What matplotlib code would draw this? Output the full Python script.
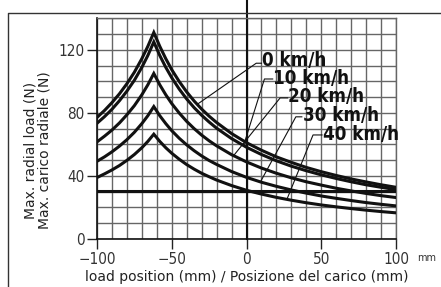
import numpy as np
import matplotlib
matplotlib.use('Agg')
import matplotlib.pyplot as plt
from matplotlib.lines import Line2D

# --
# Data (load position in mm, max radial load in N)

pos_mm = [-100, -95, -90, -85, -80, -75, -70, -66, -62, -58, -54, -50, -45, -40, -35,
          -30, -25, -20, -10, 0, 10, 20, 30, 40, 50, 60, 70, 80, 90, 100]

load_0kmh = [77.1, 81.5, 86.5, 92.1, 98.5, 105.8, 114.4, 122.2, 131.0, 122.2, 114.4, 107.4, 99.9, 93.3, 87.5,
             82.4, 77.9, 73.9, 66.9, 61.1, 56.3, 52.1, 48.6, 45.4, 42.7, 40.3, 38.1, 36.2, 34.4, 32.8]
load_10kmh = [73.4, 77.6, 82.3, 87.7, 93.8, 100.7, 108.9, 116.4, 125.0, 116.4, 108.9, 102.3, 95.1, 88.8, 83.3,
              78.5, 74.2, 70.3, 63.7, 58.2, 53.6, 49.6, 46.2, 43.3, 40.7, 38.4, 36.3, 34.4, 32.8, 31.3]
load_20kmh = [61.6, 65.2, 69.1, 73.6, 78.8, 84.6, 91.5, 97.8, 105.0, 97.8, 91.5, 85.9, 79.9, 74.6, 70.0,
              65.9, 62.3, 59.1, 53.5, 48.9, 45.0, 41.7, 38.8, 36.3, 34.2, 32.2, 30.5, 28.9, 27.5, 26.3]
load_30kmh = [49.3, 52.1, 55.3, 58.9, 63.0, 67.7, 73.2, 78.2, 84.0, 78.2, 73.2, 68.7, 63.9, 59.7, 56.0,
              52.7, 49.8, 47.3, 42.8, 39.1, 36.0, 33.4, 31.1, 29.1, 27.3, 25.8, 24.4, 23.1, 22.0, 21.0]
load_40kmh = [39.0, 41.3, 43.8, 46.6, 49.9, 53.6, 57.9, 61.9, 66.5, 61.9, 57.9, 54.4, 50.6, 47.2, 44.3,
              41.7, 39.5, 37.4, 33.9, 30.9, 28.5, 26.4, 24.6, 23.0, 21.6, 20.4, 19.3, 18.3, 17.4, 16.6]

limit_pos = [-100, 100]
limit_load = [30.3, 30.3]

speed_labels = ['0 km/h', '10 km/h', '20 km/h', '30 km/h', '40 km/h']
x_ticks = [-100, -50, 0, 50, 100]
x_tick_labels = ['\u2212100', '\u221250', '0', '50', '100']
y_ticks = [0, 40, 80, 120]

# --
# Figure

fig = plt.figure(figsize=(4.41, 2.87), dpi=100)
ax = fig.add_axes([97 / 441, 48 / 287, 299 / 441, (239 - 18.3) / 287])

for ys in [load_0kmh, load_10kmh, load_20kmh, load_30kmh, load_40kmh]:
    ax.plot(pos_mm, ys, color='#111111', lw=2.2, solid_joinstyle='miter', zorder=3)
ax.plot(limit_pos, limit_load, color='#111111', lw=2.2, zorder=3)

ax.set_xlim(-100, 100)
ax.set_ylim(0, 140)
ax.set_xticks(x_ticks)
ax.set_xticklabels(x_tick_labels)
ax.set_xticks(np.arange(-100, 101, 10), minor=True)
ax.set_yticks(y_ticks)
ax.set_yticks(np.arange(0, 141, 10), minor=True)
ax.grid(which='both', color='#666666', lw=1.0, zorder=1)
ax.set_axisbelow(True)
ax.tick_params(which='minor', length=0)
ax.tick_params(which='major', length=7, width=1, color='#222222',
               labelsize=11, labelcolor='#333333', pad=2)
for lab in ax.get_xticklabels() + ax.get_yticklabels():
    lab.set_stretch('condensed')
for s in ['left', 'bottom']:
    ax.spines[s].set_color('#111111')
    ax.spines[s].set_linewidth(1.2)
for s in ['top', 'right']:
    ax.spines[s].set_color('#666666')
    ax.spines[s].set_linewidth(1.0)

# zero line runs up out of the plot
ax.plot([0, 0], [0, 153], color='#111111', lw=1.5, clip_on=False, zorder=2)

# speed labels with leader lines
label_font = dict(family='DejaVu Sans', stretch='condensed', weight='bold',
                  size=13.5, color='#111111', ha='left', va='center')
anchors = [(10.5, 113), (18, 102), (28, 90.3), (37.5, 78.2), (51, 66.6)]
starts = [(6.5, 111.5), (12, 101.5), (22.5, 89.5), (33, 77.5), (44.5, 66)]
ends = [(-33, 85.4), (-2, 59.2), (-8.7, 52.8), (9.3, 36.2), (27, 25.1)]
for txt, (tx, ty), (sx, sy), (ex, ey) in zip(speed_labels, anchors, starts, ends):
    ax.plot([ex, sx, tx - 0.5], [ey, sy, sy], color='#111111', lw=0.8, zorder=4)
    ax.text(tx, ty, txt, zorder=5, **label_font)

# outer frame
fig.add_artist(Line2D([8 / 441, 8 / 441, 1], [0, 1 - 13 / 287, 1 - 13 / 287],
                      transform=fig.transFigure, color='#333333', lw=1.0))

fig.text(37.5 / 441, 1 - 150 / 287, 'Max. radial load (N)\nMax. carico radiale (N)',
         rotation=90, ha='center', va='center', fontsize=10, color='#222222', linespacing=1.0)
fig.text(247 / 441, 1 - 277 / 287, 'load position (mm) / Posizione del carico (mm)',
         ha='center', va='center', fontsize=10, color='#222222')
fig.text(417 / 441, 1 - 258 / 287, 'mm', ha='left', va='center', fontsize=7, color='#333333')

fig.savefig('out.png', dpi=100)
